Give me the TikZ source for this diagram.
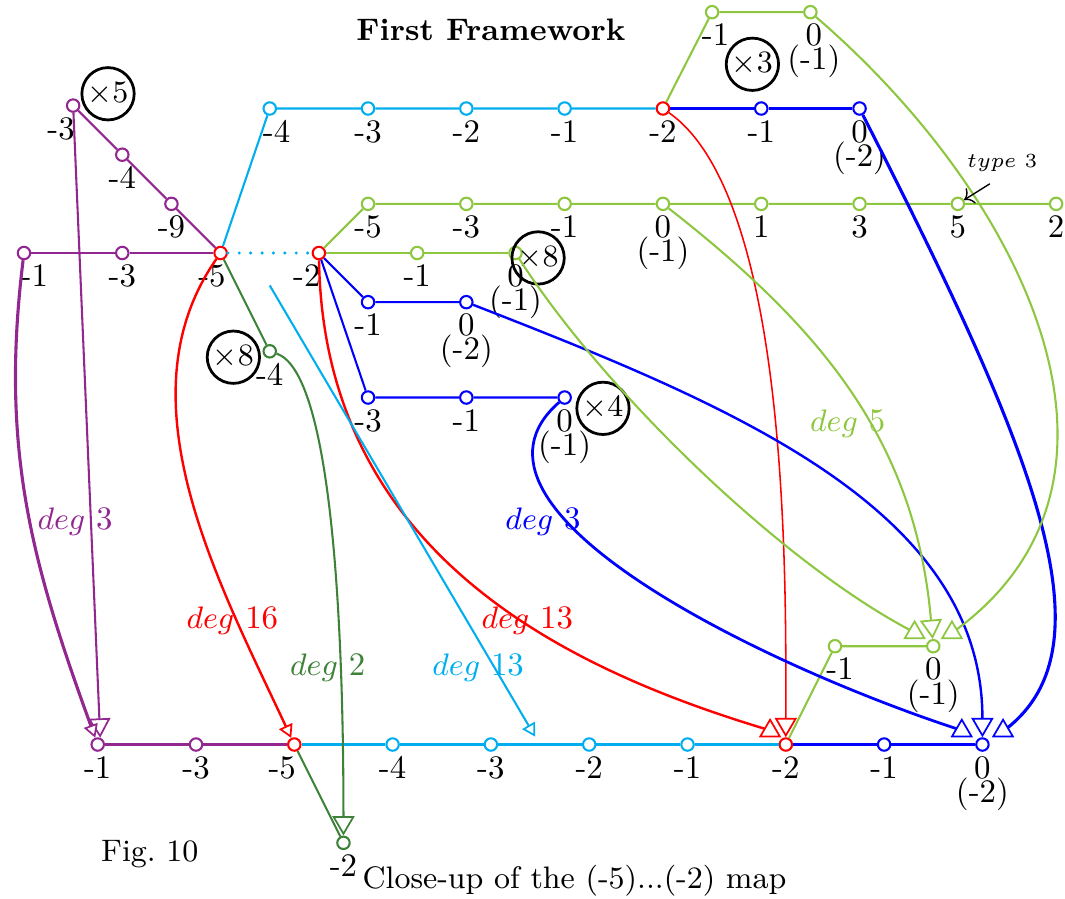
\documentclass[tikz,border=0pt]{standalone}
\usepackage{amsmath}
\usepackage{fontspec}
\usetikzlibrary{arrows.meta}
\definecolor{pur}{RGB}{146,39,143}
\definecolor{lblue}{RGB}{0,174,239}
\definecolor{lgreen}{RGB}{141,198,63}
\definecolor{dgreen}{RGB}{61,130,56}
\tikzset{
  v/.style={circle,draw=#1,fill=white,inner sep=0pt,minimum size=3.6pt},
  lab/.style={inner sep=1pt},
  mult/.style={circle,draw,line width=0.8pt,inner sep=0.6pt},
  tipbig/.style={-{Triangle[fill=white,length=5.6pt,width=6.4pt,line width=0.5pt]}},
  tipsmall/.style={-{Triangle[fill=white,length=3.8pt,width=4.2pt,line width=0.5pt]}},
  dotline/.style={line width=1pt,line cap=round,dash pattern=on 0pt off 3.3pt},
  captext/.style={font=\fontsize{9}{11}\selectfont}
}
\begin{document}
\begin{tikzpicture}[line width=0.6pt,font=\fontsize{9.5}{11.5}\selectfont]
\useasboundingbox (-0.244,-6.562) rectangle (10.59,2.574);
%
% purple part
\node[v=pur,label={[lab,xshift=3pt]below:-1}] (pa) at (0,0) {};
\node[v=pur,label={[lab]below:-3}] (pb) at (1,0) {};
\node[v=red,label={[lab,xshift=-2.5pt]below:-5}] (r5) at (2,0) {};
\node[v=pur,label={[lab,xshift=-3.5pt]below:-3}] (pc) at (0.5,1.5) {};
\node[v=pur,label={[lab]below:-4}] (pd) at (1,1) {};
\node[v=pur,label={[lab]below:-9}] (pe) at (1.5,0.5) {};
%
% top rows
\node[v=lblue,label={[lab,xshift=2pt]below:-4}] (c4) at (2.5,1.47) {};
\foreach \n/\x/\t in {c3/3.5/-3,c2/4.5/-2,c1/5.5/-1}
  \node[v=lblue,label={[lab]below:\t}] (\n) at (\x,1.47) {};
\node[v=red,label={[lab]below:-2}] (r2t) at (6.5,1.47) {};
\node[v=blue,label={[lab]below:-1}] (bt1) at (7.5,1.47) {};
\node[v=blue,label={[lab,align=center]below:0\\[-4.5pt](-2)}] (bt0) at (8.5,1.47) {};
\node[v=lgreen,label={[lab,xshift=1pt]below:-1}] (gt1) at (7,2.45) {};
\node[v=lgreen,label={[lab,align=center,xshift=1pt]below:0\\[-4.5pt](-1)}] (gt0) at (8,2.45) {};
\foreach \n/\x/\t in {g5/3.5/-5,g3/4.5/-3,g1/5.5/-1,gp1/7.5/1,gp3/8.5/3,gp5/9.5/5,gp2/10.5/2}
  \node[v=lgreen,label={[lab]below:\t}] (\n) at (\x,0.5) {};
\node[v=lgreen,label={[lab,align=center]below:0\\[-4.5pt](-1)}] (g0) at (6.5,0.5) {};
%
% around the -2
\node[v=red,label={[lab,xshift=-3.5pt]below:-2}] (r2) at (3,0) {};
\node[v=lgreen,label={[lab]below:-1}] (ga) at (4,0) {};
\node[v=lgreen,label={[lab,align=center]below:0\\[-4.5pt](-1)}] (gb) at (5,0) {};
\node[v=blue,label={[lab]below:-1}] (ba) at (3.5,-0.5) {};
\node[v=blue,label={[lab,align=center]below:0\\[-4.5pt](-2)}] (bz2) at (4.5,-0.5) {};
\node[v=blue,label={[lab]below:-3}] (bc) at (3.5,-1.47) {};
\node[v=blue,label={[lab]below:-1}] (bd) at (4.5,-1.47) {};
\node[v=blue,label={[lab,align=center]below:0\\[-4.5pt](-1)}] (bz1) at (5.5,-1.47) {};
\node[v=dgreen,label={[lab]below:-4}] (dg4) at (2.5,-1) {};
%
% bottom row
\node[v=pur,label={[lab]below:-1}] (bm1) at (0.75,-5) {};
\node[v=pur,label={[lab]below:-3}] (bm3) at (1.75,-5) {};
\node[v=red,label={[lab,xshift=-3.5pt]below:-5}] (b5) at (2.75,-5) {};
\foreach \n/\x/\t in {b4/3.75/-4,b3/4.75/-3,b2/5.75/-2,b1/6.75/-1}
  \node[v=lblue,label={[lab]below:\t}] (\n) at (\x,-5) {};
\node[v=red,label={[lab]below:-2}] (bred2) at (7.75,-5) {};
\node[v=blue,label={[lab]below:-1}] (bb1) at (8.75,-5) {};
\node[v=blue,label={[lab,align=center]below:0\\[-4.5pt](-2)}] (bb0) at (9.75,-5) {};
\node[v=dgreen,label={[lab]below:-2}] (dgm2) at (3.25,-6) {};
\node[v=lgreen,label={[lab,xshift=1.5pt]below:-1}] (gb1) at (8.25,-4) {};
\node[v=lgreen,label={[lab,align=center]below:0\\[-4.5pt](-1)}] (gb0) at (9.25,-4) {};
%
% multiplicities
\node[mult] (m5) at (0.855,1.62) {$\times5$};
\node[mult] (m3) at (7.41,1.92) {$\times3$};
\node[mult] (m8a) at (5.23,-0.05) {$\times8$};
\node[mult] (m8b) at (2.13,-1.06) {$\times8$};
\node[mult] (m4) at (5.89,-1.58) {$\times4$};
%
% tips of the upward triangles
\coordinate (trl) at ([shift={(-0.16,0.27)}]bred2);
\coordinate (tpl) at ([shift={(-0.21,0.27)}]bb0);
\coordinate (tpr) at ([shift={(0.21,0.27)}]bb0);
\coordinate (tgl) at ([shift={(-0.19,0.27)}]gb0);
\coordinate (tgr) at ([shift={(0.19,0.27)}]gb0);
\coordinate (ls) at (2.5,-0.33);
\coordinate (le) at (5.2,-4.92);
%
% edges
\draw[pur] (pa) -- (pb) -- (r5);
\draw[pur] (pc) -- (pd) -- (pe) -- (r5);
\draw[lblue] (r5) -- (c4) -- (c3) -- (c2) -- (c1) -- (r2t);
\draw[lblue,dotline] (r5) -- (r2);
\draw[lblue] (b5) -- (b4) -- (b3) -- (b2) -- (b1) -- (bred2);
\draw[pur] (bm1) -- (bm3) -- (b5);
\draw[blue] (r2t) -- (bt1) -- (bt0);
\draw[blue] (r2) -- (ba) -- (bz2);
\draw[blue] (r2) -- (bc) -- (bd) -- (bz1);
\draw[blue] (bred2) -- (bb1) -- (bb0);
\draw[lgreen] (r2t) -- (gt1) -- (gt0);
\draw[lgreen] (r2) -- (g5) -- (g3) -- (g1) -- (g0) -- (gp1) -- (gp3) -- (gp5) -- (gp2);
\draw[lgreen] (r2) -- (ga) -- (gb);
\draw[lgreen] (bred2) -- (gb1) -- (gb0);
\draw[dgreen] (r5) -- (dg4);
\draw[dgreen] (b5) -- (dgm2);
%
% maps
\draw[pur,tipbig] (pc) -- (bm1.70);
\draw[pur,tipsmall,line width=0.9pt] (pa) to[out=-97,in=110] (bm1);
\draw[red,tipsmall,line width=0.7pt] (r5) to[out=-125,in=115,looseness=0.9] (b5);
\draw[red,tipbig,line width=0.7pt] (r2) .. controls (3.05,-3.0) and (5.4,-4.2) .. ([shift={(-0.02,-0.12)}]trl) .. controls +(0,0) and +(0,-0.01) .. (trl);
\draw[red,tipbig,line width=0.45pt] (r2t) to[out=-35,in=90,looseness=0.6] (bred2);
\draw[lblue,tipsmall] (ls) -- (le);
\draw[dgreen,tipbig] (dg4) .. controls (3.1,-1.2) and (3.25,-3.5) .. (dgm2);
\draw[blue,tipbig,line width=0.7pt] (bz2) .. controls (7.2,-1.55) and (9.75,-2.6) .. (bb0);
\draw[blue,tipbig,line width=0.8pt] (bz1) .. controls (4.2,-2.6) and (7.53,-4.2) .. ([shift={(-0.02,-0.12)}]tpl) .. controls +(0,0) and +(0,-0.01) .. (tpl);
\draw[blue,tipbig,line width=0.9pt] (bt0) .. controls (10.27,-2.0) and (11.1,-4.0) .. ([shift={(0.02,-0.12)}]tpr) .. controls +(0,0) and +(0,-0.01) .. (tpr);
\draw[lgreen,tipbig] (gt0) .. controls (10.15,0.6) and (11.6,-2.3) .. ([shift={(0.02,-0.12)}]tgr) .. controls +(0,0) and +(0,-0.01) .. (tgr);
\draw[lgreen,tipbig] (g0) to[out=-38,in=95] (gb0);
\draw[lgreen,tipbig] (gb) .. controls (5.9,-1.4) and (7.7,-3.15) .. ([shift={(-0.02,-0.12)}]tgl) .. controls +(0,0) and +(0,-0.01) .. (tgl);
%
% degrees
\node[pur] (dp) at (0.52,-2.73) {$deg$ 3};
\node[red] (dr16) at (2.12,-3.74) {$deg$ 16};
\node[dgreen] (ddg) at (3.09,-4.22) {$deg$ 2};
\node[lblue] (dlb) at (4.62,-4.22) {$deg$ 13};
\node[red] (dr13) at (5.12,-3.74) {$deg$ 13};
\node[blue] (db) at (5.28,-2.73) {$deg$ 3};
\node[lgreen] (dg) at (8.38,-1.74) {$deg$ 5};
%
\node[font=\fontsize{5.8}{7}\selectfont] (typ) at (9.95,0.92) {$type$ 3};
\draw[->,line width=0.4pt] (typ.240) -- (gp5);
\node[font=\fontsize{9}{11}\selectfont\bfseries] (ttl) at (4.75,2.27) {First Framework};
\node[captext] (fig) at (1.28,-6.12) {Fig.~10};
\node[captext] (cpt) at (5.6,-6.39) {Close-up of the (-5)...(-2) map};
\end{tikzpicture}
\end{document}
